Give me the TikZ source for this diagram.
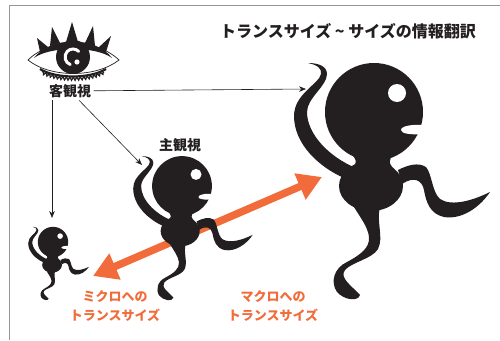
\documentclass[tikz,border=0pt]{standalone}
\usepackage{fontspec}
\newfontfamily\jpfont{Noto Sans CJK JP}
\usetikzlibrary{arrows.meta,decorations.pathmorphing}

\definecolor{ink}{RGB}{35,31,32}
\definecolor{tango}{RGB}{241,108,58}
\definecolor{rulegray}{RGB}{150,150,150}

\tikzset{
  label jp/.style={font=\jpfont\bfseries\fontsize{14}{16}\selectfont, text=ink, inner sep=2.5pt},
  size note/.style={font=\jpfont\bfseries\fontsize{13}{19}\selectfont, text=tango, align=center, inner sep=0pt},
  look/.style={-{Stealth[length=7pt,width=5.5pt]}, line width=0.6pt, ink},
  shift arrow/.style={{Triangle[length=24pt,width=27pt]}-{Triangle[length=24pt,width=27pt]}, line width=7.5pt, tango},
  % the little creature, head centre at the origin, head radius 49
  critter/.pic={
    \fill[ink] (0,0) circle (49);
    \fill[ink] (-3,74) ellipse (32 and 25);
    % neck
    \fill[ink] (-24,40) .. controls (-16,50) .. (-26,60) -- (22,60) .. controls (14,50) .. (20,40) -- cycle;
    % tail
    \fill[ink] (-18,56) .. controls (-45,45) and (-67,22) .. (-67,0)
      .. controls (-67,-14) and (-47,-26) .. (-47,-38)
      .. controls (-47,-46) and (-56,-49) .. (-66,-49)
      .. controls (-57,-47) and (-52,-44) .. (-53,-38)
      .. controls (-55,-28) and (-80,-18) .. (-80,4)
      .. controls (-80,32) and (-55,55) .. (-30,66) -- cycle;
    % arm
    \fill[ink] (24,58) .. controls (34,53) and (44,50) .. (52,55)
      .. controls (58,62) and (58,80) .. (66,87)
      .. controls (78,95) and (100,88) .. (116,80)
      .. controls (106,95) and (88,108) .. (70,105)
      .. controls (56,102) and (52,90) .. (50,78)
      .. controls (48,68) and (40,64) .. (28,72) -- cycle;
    % leg
    \fill[ink] (6,95) .. controls (2,110) and (10,125) .. (4,137)
      .. controls (-2,147) and (-22,150) .. (-29,158)
      .. controls (-35,166) and (-22,174) .. (-14,183)
      .. controls (-16,190) and (-30,188) .. (-37,180)
      .. controls (-44,170) and (-40,156) .. (-27,150)
      .. controls (-14,143) and (-4,136) .. (-5,125)
      .. controls (-6,115) and (-14,105) .. (-20,95) -- cycle;
    % eye and mouth
    \fill[white] (23,-19) circle (9);
    \fill[white] (52,13) .. controls (38,12) and (27,14) .. (27,18)
      .. controls (27,22) and (38,23) .. (52,22) -- cycle;
  }
}

\begin{document}
\begin{tikzpicture}[x=1pt,y=1pt,yscale=-1]
\useasboundingbox (0,0) rectangle (500,340);

% frame
\draw[rulegray, line width=0.8pt] (9,340) -- (9,5) -- (500,5);

%Shape: eye
\draw[ink, line width=0.7pt, fill=white] (28,60) .. controls (50,38) and (96,38) .. (119,60)
  .. controls (96,78) and (50,78) .. (28,60) -- cycle;
\draw[ink, line width=2.2pt] (40,69) .. controls (56,79) and (90,79) .. (106,69);
\draw[ink, line width=1.2pt, decorate, decoration={zigzag, segment length=3.5pt, amplitude=1.6pt}]
  (42,72) .. controls (57,81) and (89,81) .. (104,72);
\fill[ink] (34,58) .. controls (50,36) and (96,36) .. (112,58)
  .. controls (96,46) and (50,46) .. (34,58) -- cycle;
\foreach \a/\b/\t in {{40,52}/{48,47}/{37,38}, {50,46}/{60,43}/{52,27}, {66,42}/{78,42}/{72,22},
                      {85,43}/{95,46}/{93,26}, {98,48}/{106,52}/{111,36}}
  \fill[ink] (\a) -- (\t) -- (\b) -- cycle;
\fill[ink] (73,57) circle (17);
\draw[white, line width=3pt, line cap=round] (73,57) ++(-45:8) arc[start angle=-45, end angle=-250, radius=8];
\fill[white] (77,62) circle (2.6);

% Text Node
\node[label jp] (obj) at (70,91) {客観視};
\node[label jp] (subj) at (180,145) {主観視};
\node[label jp, font=\jpfont\bfseries\fontsize{16}{18}\selectfont] (title) at (348,31)
  {トランスサイズ \textasciitilde{} サイズの情報翻訳};

% arrow ends
\coordinate (bigin) at (306,89);
\coordinate (midin) at (142,165);
\coordinate (smallin) at (52,218);
\coordinate (micro) at (93,276);
\coordinate (macro) at (322,177);

\draw[look] (obj) -- (bigin);
\draw[look] (obj) -- (midin);
\draw[look] (obj.south -| smallin) -- (smallin);

%Straight Lines: size shift
\draw[shift arrow] (micro) -- (macro);

% the three critters
\pic[transform shape] at (374,112) {critter};
\pic[transform shape, scale=0.61] at (182,186) {critter};
\pic[transform shape, scale=0.31] at (53,242) {critter};

% Text Node
\node[size note] (microtxt) at (115,306) {ミクロへの\\トランスサイズ};
\node[size note] (macrotxt) at (273,306) {マクロへの\\トランスサイズ};

\end{tikzpicture}
\end{document}
